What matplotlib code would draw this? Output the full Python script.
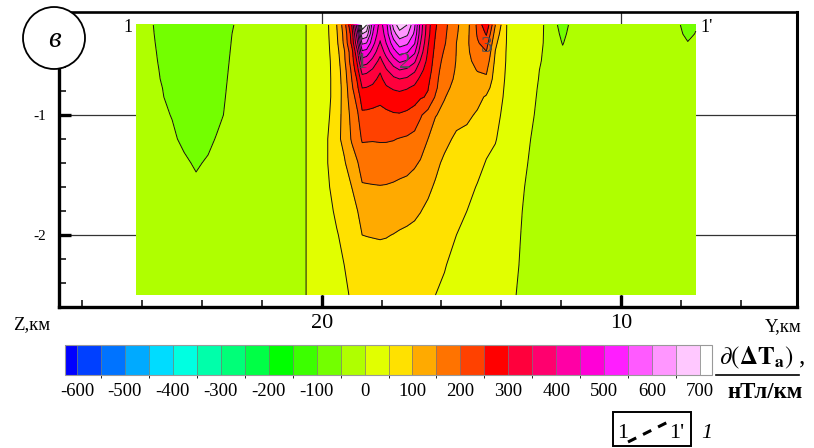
import numpy as np
import matplotlib
matplotlib.use('Agg')
import matplotlib.pyplot as plt
from matplotlib.colors import ListedColormap, BoundaryNorm
from matplotlib.patches import Ellipse, Rectangle
from matplotlib.lines import Line2D
from matplotlib.ticker import FixedLocator

plt.rcParams['font.family'] = ['Liberation Serif', 'DejaVu Serif']
plt.rcParams['mathtext.fontset'] = 'stix'
plt.rcParams['axes.unicode_minus'] = False

# глубины узлов, км
z_km = [-0.25, -0.325, -0.4, -0.475, -0.55, -0.625, -0.7, -0.775, -0.85,
        -1.0, -1.2, -1.4, -1.6, -1.8, -2.0, -2.25, -2.5]

# профили градиента по глубине (нТл/км) для каждого Y, км
y_km = [26.2, 25.6, 25.0, 24.6, 24.2, 23.8, 23.5, 23.0, 22.0, 21.0,
        20.5, 20.1, 19.8, 19.5, 19.25, 19.0, 18.8, 18.65, 18.5, 18.3,
        18.05, 17.85, 17.6, 17.4, 17.15, 16.9, 16.7, 16.45, 16.2, 15.9,
        15.5, 15.15, 14.8, 14.5, 14.2, 13.8, 13.3, 12.6, 12.3, 11.95,
        11.6, 11.0, 10.0, 8.8, 8.1, 7.77, 7.5]
grad_columns = [
    [-30] * 17,
    [-51, -50, -49, -48, -47, -46, -45, -44, -43, -42, -40, -38, -36, -35, -34, -33, -32],
    [-68, -67, -66, -64, -63, -61, -60, -57, -56, -51, -46, -42, -40, -38, -36, -34, -33],
    [-76, -75, -74, -73, -72, -71, -69, -68, -66, -62, -55, -46, -43, -40, -37, -35, -33],
    [-80, -79, -78, -77, -76, -75, -73, -72, -70, -66, -60, -53, -45, -41, -38, -35, -33],
    [-74, -73, -72, -71, -70, -69, -67, -66, -64, -61, -56, -47, -44, -40, -37, -35, -33],
    [-66, -65, -65, -64, -63, -62, -61, -60, -59, -56, -48, -45, -42, -39, -36, -34, -33],
    [-51, -50, -49, -48, -47, -46, -45, -44, -43, -42, -40, -38, -36, -35, -34, -33, -32],
    [-35, -35, -35, -34, -34, -33, -33, -32, -32, -31, -30, -29, -28, -28, -27, -27, -27],
    [-20] * 17,
    [1] * 17,
    [25, 24, 22, 21, 20, 20, 20, 20, 20, 20, 22, 22, 20, 18, 16, 15, 14],
    [45, 44, 42, 41, 40, 40, 40, 40, 40, 42, 50, 50, 46, 42, 35, 30, 27],
    [100, 95, 90, 82, 75, 72, 70, 70, 70, 80, 88, 80, 65, 55, 48, 42, 37],
    [175, 165, 160, 145, 140, 130, 125, 120, 120, 115, 112, 95, 80, 68, 57, 50, 45],
    [300, 270, 260, 230, 225, 210, 200, 190, 180, 165, 155, 125, 100, 85, 70, 60, 53],
    [500, 440, 400, 350, 315, 290, 260, 245, 220, 195, 180, 148, 125, 100, 82, 68, 60],
    [750, 650, 560, 490, 430, 370, 330, 300, 278, 240, 205, 172, 145, 120, 100, 80, 65],
    [700, 630, 550, 480, 420, 365, 325, 298, 275, 240, 204, 173, 146, 121, 101, 81, 66],
    [520, 500, 470, 430, 385, 345, 312, 292, 270, 238, 203, 175, 147, 122, 102, 82, 67],
    [430, 415, 395, 365, 335, 305, 290, 280, 262, 236, 204, 177, 148, 124, 103, 84, 68],
    [480, 470, 450, 420, 380, 345, 315, 294, 272, 240, 204, 176, 147, 122, 102, 83, 67],
    [620, 580, 530, 480, 430, 380, 340, 305, 282, 245, 202, 173, 144, 119, 99, 80, 64],
    [680, 630, 575, 520, 460, 400, 350, 310, 284, 246, 198, 170, 140, 115, 96, 78, 62],
    [650, 610, 560, 505, 445, 390, 342, 303, 280, 240, 194, 165, 137, 112, 93, 76, 61],
    [560, 540, 505, 460, 410, 360, 320, 290, 270, 228, 186, 156, 130, 107, 90, 73, 59],
    [430, 420, 400, 375, 345, 315, 290, 270, 255, 205, 172, 146, 122, 101, 86, 70, 56],
    [320, 315, 305, 295, 285, 275, 262, 252, 245, 180, 150, 130, 108, 92, 80, 65, 53],
    [255, 250, 242, 235, 228, 222, 215, 210, 195, 152, 128, 110, 95, 83, 73, 61, 50],
    [215, 210, 205, 195, 185, 175, 168, 160, 152, 140, 112, 92, 84, 72, 62, 52, 44],
    [155, 152, 150, 149, 148, 146, 143, 138, 132, 115, 92, 80, 68, 58, 50, 40, 32],
    [132, 136, 140, 140, 138, 134, 130, 125, 120, 108, 88, 72, 60, 50, 42, 32, 24],
    [210, 205, 195, 180, 165, 152, 140, 125, 112, 95, 75, 60, 48, 40, 33, 25, 18],
    [290, 255, 222, 198, 178, 158, 142, 118, 95, 75, 60, 48, 38, 30, 24, 18, 12],
    [150, 128, 110, 98, 90, 83, 78, 72, 68, 60, 52, 42, 34, 27, 22, 16, 11],
    [45, 45, 45, 44, 44, 43, 42, 41, 40, 37, 33, 28, 24, 20, 17, 14, 10],
    [25, 23, 22, 21, 20, 18, 17, 15, 14, 12, 8, 5, 2, 0, -2, -4, -7],
    [2, 1, 0, -1, -2, -4, -5, -6, -7, -9, -12, -14, -16, -18, -20, -22, -24],
    [-40, -39, -38, -37, -36, -35, -34, -33, -32, -30, -29, -28, -28, -28, -28, -28, -28],
    [-60, -55, -51, -47, -44, -42, -40, -38, -37, -35, -33, -32, -31, -30, -30, -29, -28],
    [-42, -41, -40, -39, -38, -37, -36, -35, -34, -33, -32, -32, -31, -30, -30, -29, -28],
    [-35, -35, -35, -34, -34, -34, -33, -33, -32, -32, -32, -32, -31, -30, -30, -29, -28],
    [-32, -32, -32, -32, -32, -32, -32, -32, -32, -32, -32, -32, -31, -31, -31, -30, -29],
    [-35, -35, -35, -35, -35, -34, -34, -34, -34, -34, -33, -33, -33, -33, -32, -32, -31],
    [-46, -45, -44, -43, -42, -41, -40, -40, -39, -38, -37, -36, -35, -35, -34, -33, -32],
    [-62, -55, -49, -46, -44, -43, -42, -41, -41, -40, -39, -38, -37, -36, -35, -34, -33],
    [-52, -49, -47, -45, -44, -43, -42, -41, -41, -40, -39, -38, -37, -36, -35, -34, -33],
]

levels = list(range(-600, 701, 50))
cbar_ticks = list(range(-600, 701, 100))
band_colors = ['#0040ff', '#0073ff', '#00aaff', '#00dcff', '#00ffe1', '#00ffaa',
               '#00ff78', '#00ff46', '#00ff00', '#3cff00', '#73ff00', '#afff00',
               '#e1ff00', '#ffe100', '#ffaa00', '#ff7300', '#ff4100', '#ff0000',
               '#ff003c', '#ff006e', '#ff00a5', '#ff00d7', '#ff1eff', '#ff5aff',
               '#ff96ff', '#ffc8ff']
under_color = '#0000ff'
over_color = '#ffffff'

W, H = 814, 448


def fx(px):
    return px / W


def fy(py):
    return 1 - py / H


fig = plt.figure(figsize=(W / 100, H / 100), dpi=100)
ax = fig.add_axes([fx(59), fy(307), (797 - 59) / W, (307 - 12) / H])

cmap = ListedColormap(band_colors)
cmap.set_under(under_color)
cmap.set_over(over_color)
norm = BoundaryNorm(levels, cmap.N)

YY, ZZ = np.meshgrid(y_km, z_km)
VV = np.array(grad_columns, dtype=float).T
cf = ax.contourf(YY, ZZ, VV, levels=levels, cmap=cmap, norm=norm,
                 extend='both', zorder=1)
ax.contour(YY, ZZ, VV, levels=levels, colors='#111111', linewidths=0.7,
           linestyles='solid', zorder=2)

for v in [20, 10]:
    ax.axvline(v, color='#333333', lw=0.9, zorder=0.5)
for v in [-1, -2]:
    ax.axhline(v, color='#333333', lw=0.9, zorder=0.5)

ax.set_xlim(28.78, 4.12)
ax.set_ylim(-2.6, -0.142)
ax.set_xticks([20, 10])
ax.set_xticklabels(['20', '10'])
ax.xaxis.set_minor_locator(FixedLocator([28, 26, 24, 22, 18, 16, 14, 12, 8, 6]))
ax.set_yticks([-1, -2])
ax.set_yticklabels(['-1', '-2'])
ax.yaxis.set_minor_locator(FixedLocator([-0.2, -0.4, -0.6, -0.8, -1.2, -1.4, -1.6,
                                         -1.8, -2.2, -2.4]))
ax.tick_params(which='major', direction='in', length=8.5, width=2.4,
               top=False, right=False)
ax.tick_params(which='minor', direction='in', length=5, width=1.1,
               top=False, right=False)
ax.tick_params(axis='x', which='major', labelsize=16, pad=5)
ax.tick_params(axis='y', which='major', labelsize=11, pad=9)
ax.spines['left'].set_linewidth(2.4)
ax.spines['bottom'].set_linewidth(2.4)
ax.spines['right'].set_linewidth(2.2)
ax.spines['top'].set_linewidth(1.9)

# подписи на разрезе
ax.text(26.47, -0.27, '1', fontsize=13, ha='center', va='center')
ax.text(7.14, -0.27, "1'", fontsize=13, ha='center', va='center')
for lab, yy, zz in [('1', 18.65, -0.56), ('2', 17.22, -0.56), ('3', 14.48, -0.43)]:
    ax.text(yy, zz, lab, fontsize=17, color='#505050', ha='center',
            va='center', zorder=3)

fig.text(fx(32), fy(325), 'Z,км', fontsize=13.5, ha='center', va='center')
fig.text(fx(783), fy(327), 'Y,км', fontsize=13.5, ha='center', va='center')

# кружок с буквой
fig.add_artist(Ellipse((fx(54), fy(38)), 62 / W, 62 / H, transform=fig.transFigure,
                       facecolor='white', edgecolor='black', lw=1.3, zorder=10))
fig.text(fx(54), fy(40), 'в', fontsize=21, style='italic', ha='center',
         va='center', zorder=11)

# шкала
cax = fig.add_axes([fx(65), fy(375), (712 - 65) / W, 30 / H])
cb = fig.colorbar(cf, cax=cax, orientation='horizontal', ticks=cbar_ticks,
                  extendfrac=12 / 623, extendrect=True, drawedges=True)
cb.outline.set_edgecolor('#999999')
cb.outline.set_linewidth(0.8)
cb.dividers.set_color('#777777')
cb.dividers.set_linewidth(0.5)
cax.tick_params(length=0, labelsize=13.5, pad=6)
cax.set_xticklabels([str(t) for t in cbar_ticks])

fig.text(fx(762), fy(358), r'$\mathit{\partial}(\mathbf{\Delta T}_{\mathbf{a}})$ ,',
         fontsize=18, ha='center', va='center')
fig.add_artist(Line2D([fx(716), fx(799)], [fy(375), fy(375)], color='black',
                      lw=1.2, transform=fig.transFigure))
fig.text(fx(765), fy(392), 'нТл/км', fontsize=16.5, fontweight='bold',
         ha='center', va='center')

# условное обозначение
fig.add_artist(Rectangle((fx(613), fy(446)), 78 / W, 34 / H,
                         transform=fig.transFigure, fill=False,
                         edgecolor='black', lw=1.4))
fig.text(fx(623), fy(433), '1', fontsize=16, ha='center', va='center')
fig.text(fx(677), fy(433), "1'", fontsize=16, ha='center', va='center')
fig.add_artist(Line2D([fx(628), fx(672)], [fy(442), fy(420)], color='black',
                      lw=2.2, linestyle=(0, (3, 2.5)), transform=fig.transFigure))
fig.text(fx(707), fy(433), '1', fontsize=16, style='italic', ha='center',
         va='center')

fig.savefig('out.png', dpi=100)
